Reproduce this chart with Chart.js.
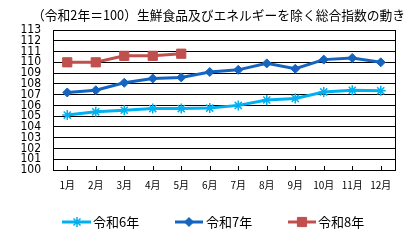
<!DOCTYPE html>
<html>
<head>
<meta charset="utf-8">
<script src="https://cdn.jsdelivr.net/npm/chart.js@4"></script>
<style>
html,body{margin:0;padding:0;background:#fff;}
#wrap{width:410px;height:241px;}
</style>
</head>
<body>
<div id="wrap"><canvas id="c" width="410" height="241"></canvas></div>
<script>
const titleText = '（令和2年＝100）生鮮食品及びエネルギーを除く総合指数の動き';
const months = ['1月','2月','3月','4月','5月','6月','7月','8月','9月','10月','11月','12月'];
const seriesNames = ['令和6年','令和7年','令和8年'];
const r6 = [105.1,105.4,105.55,105.7,105.7,105.75,106.0,106.5,106.65,107.25,107.4,107.35];
const r7 = [107.2,107.4,108.1,108.5,108.6,109.1,109.3,109.9,109.4,110.25,110.4,110.0];
const r8 = [110.0,110.0,110.6,110.6,110.8];
const yMin = 100, yMax = 113, yStep = 1;

const colors = ['#00b0f0','#1565c0','#c0504d'];
const styles = [
  {pointStyle:'star', radius:5, borderWidth:1.5},
  {pointStyle:'rectRot', radius:4.5, borderWidth:1},
  {pointStyle:'rect', radius:6.5, borderWidth:1}
];

function drawMarker(ctx, st, color, x, y){
  ctx.save();
  ctx.fillStyle = color; ctx.strokeStyle = color;
  if (Chart.helpers && Chart.helpers.drawPoint) {
    ctx.lineWidth = st.borderWidth;
    Chart.helpers.drawPoint(ctx, {pointStyle: st.pointStyle, radius: st.radius, rotation: 0, borderWidth: st.borderWidth}, x, y);
  }
  ctx.restore();
}

const deco = {
  id: 'deco',
  afterDraw(chart){
    const {ctx, chartArea: a, scales: {x}} = chart;
    ctx.save();
    ctx.strokeStyle = '#000';
    ctx.lineWidth = 1;
    ctx.beginPath();
    ctx.moveTo(Math.round(a.right) + 0.5, a.top);
    ctx.lineTo(Math.round(a.right) + 0.5, a.bottom);
    months.forEach((m, i) => {
      const px = Math.round(x.getPixelForValue(i)) + 0.5;
      ctx.moveTo(px, a.bottom - 4);
      ctx.lineTo(px, a.bottom);
    });
    ctx.stroke();

    // title
    ctx.fillStyle = '#000';
    ctx.font = '13px "Noto Sans CJK JP"';
    ctx.textBaseline = 'middle';
    ctx.textAlign = 'left';
    ctx.fillText(titleText, 32, 15, 373);

    // legend
    const items = [[62, 91, 77, 93], [175, 203, 189, 206], [288, 316, 302, 318]];
    const ly = 222;
    items.forEach((it, i) => {
      ctx.strokeStyle = colors[i];
      ctx.lineWidth = 3;
      ctx.beginPath();
      ctx.moveTo(it[0], ly);
      ctx.lineTo(it[1], ly);
      ctx.stroke();
      drawMarker(ctx, styles[i], colors[i], it[2], ly);
      ctx.fillStyle = '#000';
      ctx.font = '13px "Noto Sans CJK JP"';
      ctx.textBaseline = 'middle';
      ctx.fillText(seriesNames[i], it[3], ly);
    });
    ctx.restore();
  }
};

function ds(label, data, i){
  return {
    label, data,
    borderColor: colors[i],
    backgroundColor: colors[i],
    borderWidth: 3,
    pointStyle: styles[i].pointStyle,
    pointRadius: styles[i].radius,
    pointBorderWidth: styles[i].borderWidth,
    pointBackgroundColor: colors[i],
    pointBorderColor: colors[i],
    pointHoverRadius: styles[i].radius,
    tension: 0,
    fill: false
  };
}

new Chart(document.getElementById('c'), {
  type: 'line',
  data: {
    labels: months,
    datasets: [ds(seriesNames[0], r6, 0), ds(seriesNames[1], r7, 1), ds(seriesNames[2], r8, 2)]
  },
  options: {
    responsive: false,
    animation: false,
    devicePixelRatio: 1,
    layout: {padding: {top: 30, right: 15, left: 0, bottom: 0}},
    plugins: {legend: {display: false}, title: {display: false}, tooltip: {enabled: false}},
    scales: {
      x: {
        offset: true,
        grid: {display: false, offset: false, drawTicks: false},
        border: {display: true, color: '#000', width: 1},
        ticks: {
          color: '#000', padding: 9, maxRotation: 0, autoSkip: false,
          font: {family: '"Noto Sans CJK JP"', size: 10}
        },
        afterFit(s){ s.height = 71; }
      },
      y: {
        min: yMin, max: yMax,
        grid: {color: '#000', lineWidth: 1, drawTicks: false},
        border: {display: true, color: '#000', width: 1},
        ticks: {
          stepSize: yStep, color: '#000', padding: 12, autoSkip: false,
          font: {family: '"Liberation Sans Narrow", "DejaVu Sans Condensed", "DejaVu Sans"', size: 12, lineHeight: 1}
        },
        afterFit(s){ s.width = 53; }
      }
    }
  },
  plugins: [deco]
});
</script>
</body>
</html>
